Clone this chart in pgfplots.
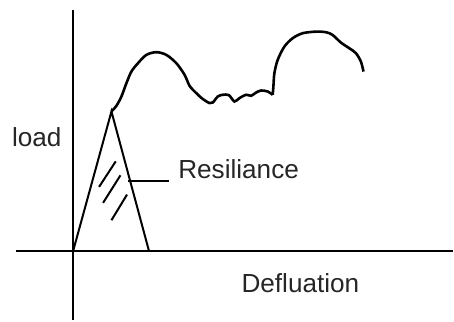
\documentclass[border=0pt]{standalone}
\usepackage{pgfplots}
\pgfplotsset{compat=1.18}
\usepackage{fontspec}
\setmainfont{Liberation Sans}
\tikzset{lbl/.style={anchor=base west, inner sep=0pt, text=black!85, font=\fontsize{13.1}{15}\selectfont}}
\begin{document}
\begin{tikzpicture}
\begin{axis}[
  scale only axis, width=227pt, height=160.5pt,
  xmin=0, xmax=454, ymin=0, ymax=321, y dir=reverse,
  hide axis, clip=false,
]
% frame of the drawing area
\path (axis cs:0,0) rectangle (axis cs:454,321);
% axes
\addplot[black, line width=1pt] coordinates {(73.3,10) (73.3,321)};
\addplot[black, line width=1pt] coordinates {(16,251.5) (454,251.5)};
% elastic triangle
\addplot[black, line width=1pt] coordinates {(73.3,251.5) (111.7,111.7) (149.3,251.5)};
% hatching of the resilience area
\addplot[black, line width=1pt] coordinates {(99.3,187.3) (116,161.7)};
\addplot[black, line width=1pt] coordinates {(103.3,203.3) (120.7,175.7)};
\addplot[black, line width=1pt] coordinates {(111.7,220.7) (127.3,195)};
% leader line
\addplot[black, line width=1pt] coordinates {(128.3,181.7) (169.3,181.7)};
% load curve: first hump and wavy plateau
\addplot[black, line width=1.3pt, smooth, tension=0.5] coordinates {
  (111.7,111.7) (116.7,106) (121.7,96.7) (126.7,83.3) (131.7,71.7)
  (138.3,63.3) (146.7,55) (156.7,52.3) (166.7,55) (176.7,63.3)
  (185,75) (190,86) (196.7,93.3) (203.3,99.3) (210,103.3) (213.3,102.7)
  (218.3,96.7) (223.3,95) (229.3,95.3) (235,101.7) (240,98.3)
  (246.7,95) (251.7,96) (256.7,92.7) (261.7,90.7) (268.3,91.7) (273.3,95)};
% second hump
\addplot[black, line width=1.3pt, smooth, tension=0.5] coordinates {
  (273.3,95) (274,86.7) (275,73.3) (278.3,60) (285,46.7) (293.3,38.3)
  (303.3,33.3) (316.7,31.7) (326.7,32.3) (333.3,35) (341.7,42.7)
  (350,48.3) (356.7,53.3) (361.7,61.7) (364.3,71.7)};
% labels
\node[lbl] at (axis cs:11.7,146.7) {load};
\node[lbl] at (axis cs:178.3,179.3) {Resiliance};
\node[lbl] at (axis cs:241.7,293.3) {Defluation};
\end{axis}
\end{tikzpicture}
\end{document}
